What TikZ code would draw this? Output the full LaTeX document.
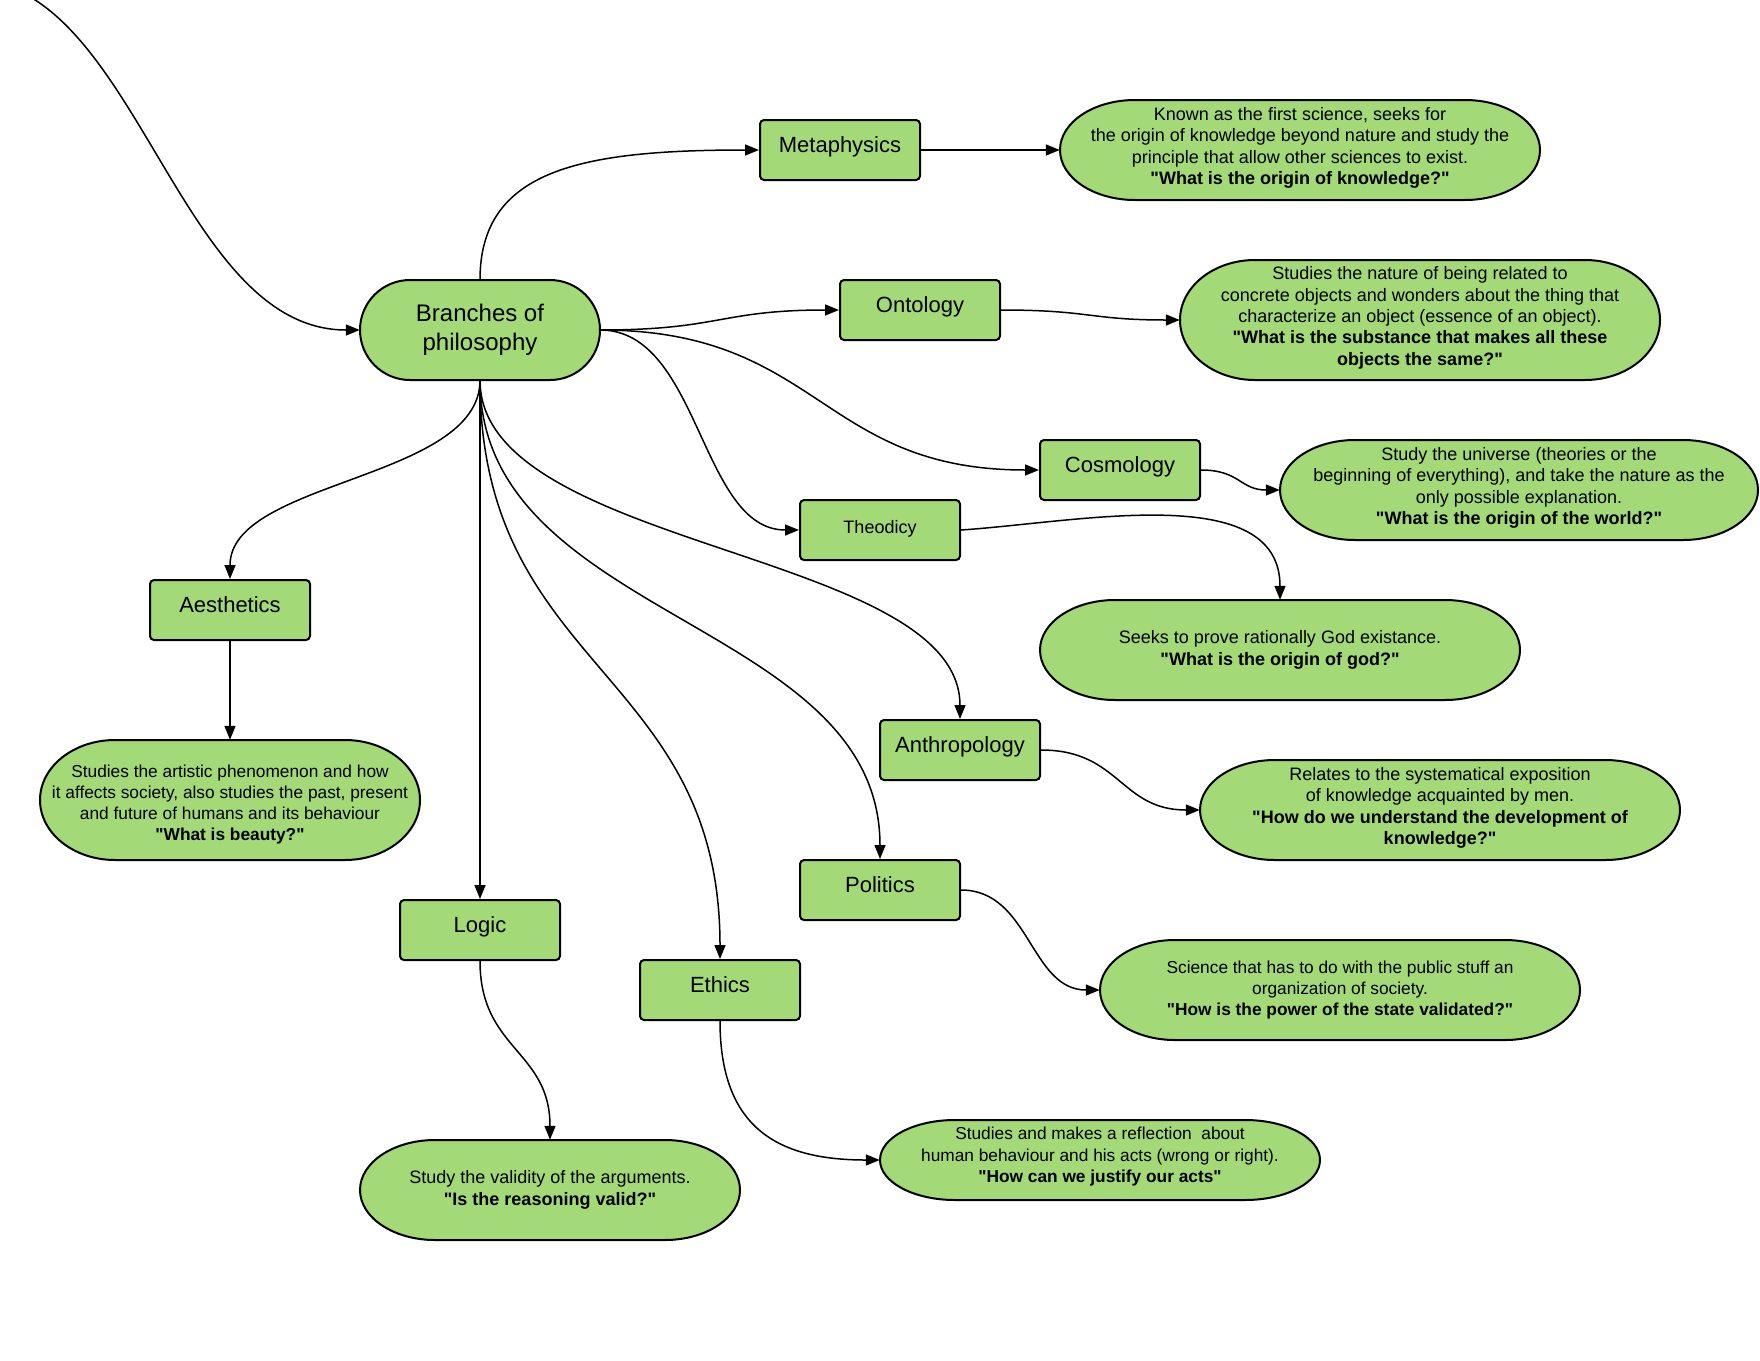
\documentclass[tikz,border=0pt]{standalone}
\usepackage{fontspec}
\setmainfont{Liberation Sans}[Ligatures=TeXOff]
\usetikzlibrary{arrows.meta}
\definecolor{boxgreen}{HTML}{A3D977}
\newcommand\stadshape[5]{%
 \pgfmathsetmacro\sxL{#1-#3/2}%
 \pgfmathsetmacro\sxR{#1+#3/2}%
 \pgfmathsetmacro\syT{#2-#4/2}%
 \pgfmathsetmacro\syB{#2+#4/2}%
 \pgfmathsetmacro\sxa{\sxL+#5}%
 \pgfmathsetmacro\sxb{\sxR-#5}%
 \pgfmathsetmacro\skx{0.5523*#5}%
 \pgfmathsetmacro\sky{0.5523*#4/2}%
 \path[shp] (\sxa,\syT) -- (\sxb,\syT)
   .. controls ({\sxb+\skx},\syT) and (\sxR,{#2-\sky}) .. (\sxR,#2)
   .. controls (\sxR,{#2+\sky}) and ({\sxb+\skx},\syB) .. (\sxb,\syB)
   -- (\sxa,\syB)
   .. controls ({\sxa-\skx},\syB) and (\sxL,{#2+\sky}) .. (\sxL,#2)
   .. controls (\sxL,{#2-\sky}) and ({\sxa-\skx},\syT) .. (\sxa,\syT) -- cycle;
}
% name, cx, cy, w, h, text shift, font size, text
\newcommand\descnode[8]{%
 \stadshape{#2}{#3}{#4}{#5}{75}%
 \node[desc, minimum width=#4pt, minimum height=#5pt] (#1) at (#2,#3) {};%
 \node[desc, font={\fontsize{#7}{21.3}\selectfont}] at ([yshift=#6pt]#1.center) {#8};%
}
\begin{document}
\begin{tikzpicture}[x=1pt,y=-1pt,
  shp/.style={draw=black, line width=2pt, fill=boxgreen},
  box/.style={draw=black, line width=2pt, fill=boxgreen, rounded corners=4pt,
    minimum width=160pt, minimum height=60pt, inner sep=0pt,
    text height=16pt, text depth=12pt,
    font={\fontsize{22}{26}\selectfont}},
  desc/.style={inner sep=0pt, align=center},
  conn/.style={line width=1.5pt, -{Triangle[length=14pt,width=11pt]}}]
\useasboundingbox (0,0) rectangle (1760,1360);
\fill[white] (0,0) rectangle (1760,1360);

% central node
\stadshape{480}{330}{240}{100}{50}
\node[inner sep=0pt, minimum width=240pt, minimum height=100pt, align=center,
  font={\fontsize{24}{29}\selectfont}] (br) at (480,330) {Branches of\\philosophy};

% branch boxes
\node[box] (meta) at (840,150) {Metaphysics};
\node[box] (onto) at (920,310) {Ontology};
\node[box] (cosmo) at (1120,470) {Cosmology};
\node[box, font={\fontsize{18}{21}\selectfont}, text height=13pt, text depth=6pt] (theo) at (880,530) {Theodicy};
\node[box] (anth) at (960,750) {Anthropology};
\node[box] (pol) at (880,890) {Politics};
\node[box] (eth) at (720,990) {Ethics};
\node[box] (logic) at (480,930) {Logic};
\node[box] (aes) at (230,610) {Aesthetics};

% descriptions
\descnode{metad}{1300}{150}{480}{100}{2.2}{18}{Known as the first science, seeks for\\the origin of knowledge beyond nature and study the\\principle that allow other sciences to exist.\\{\bfseries "What is the origin of knowledge?"}}
\descnode{ontod}{1420}{320}{480}{120}{2.2}{18}{Studies the nature of being related to\\concrete objects and wonders about the thing that\\characterize an object (essence of an object).\\{\bfseries "What is the substance that makes all these}\\{\bfseries objects the same?"}}
\descnode{cosmod}{1519}{490}{478}{100}{2.2}{18}{Study the universe (theories or the\\beginning of everything), and take the nature as the\\only possible explanation.\\{\bfseries "What is the origin of the world?"}}
\descnode{theod}{1280}{650}{480}{100}{0}{18}{Seeks to prove rationally God existance.\\{\bfseries "What is the origin of god?"}}
\descnode{anthd}{1440}{810}{480}{100}{2.2}{18}{Relates to the systematical exposition\\of knowledge acquainted by men.\\{\bfseries "How do we understand the development of}\\{\bfseries knowledge?"}}
\descnode{pold}{1340}{990}{480}{100}{0}{17.3}{Science that has to do with the public stuff an\\organization of society.\\{\bfseries "How is the power of the state validated?"}}
\descnode{ethd}{1100}{1160}{440}{80}{3.4}{17.3}{Studies and makes a reflection \ about\\human behaviour and his acts (wrong or right).\\{\bfseries "How can we justify our acts"}}
\descnode{logd}{550}{1190}{380}{100}{0}{18}{Study the validity of the arguments.\\{\bfseries "Is the reasoning valid?"}}
\descnode{aesd}{230}{800}{380}{120}{-4.5}{17.3}{Studies the artistic phenomenon and how\\it affects society, also studies the past, present\\and future of humans and its behaviour\\{\bfseries "What is beauty?"}}

% connectors
\coordinate (start) at (32,-2);
\draw[conn] (start) .. controls (150,70) and (200,330) .. (br.west);
\draw[conn] (br.north) .. controls (480,170) and (580,150) .. (meta.west);
\draw[conn] (meta.east) -- (metad.west);
\draw[conn] (br.east) .. controls (720,330) and (720,310) .. (onto.west);
\draw[conn] (onto.east) .. controls (1090,310) and (1090,320) .. (ontod.west);
\draw[conn] (br.east) .. controls (820,330) and (820,470) .. (cosmo.west);
\draw[conn] (cosmo.east) .. controls (1240,470) and (1240,490) .. (cosmod.west);
\draw[conn] (br.east) .. controls (700,330) and (700,530) .. (theo.west);
\draw[conn] (theo.east) .. controls (1080,522) and (1280,480) .. (theod.north);
\draw[conn] (br.south) .. controls (480,480) and (230,480) .. (aes.north);
\draw[conn] (aes.south) -- (aesd.north);
\draw[conn] (br.south) -- (logic.north);
\draw[conn] (logic.south) .. controls (480,1050) and (550,1050) .. (logd.north);
\draw[conn] (br.south) .. controls (480,670) and (720,670) .. (eth.north);
\draw[conn] (eth.south) .. controls (720,1130) and (780,1160) .. (ethd.west);
\draw[conn] (br.south) .. controls (480,620) and (880,620) .. (pol.north);
\draw[conn] (pol.east) .. controls (1030,890) and (1030,990) .. (pold.west);
\draw[conn] (br.south) .. controls (480,550) and (960,550) .. (anth.north);
\draw[conn] (anth.east) .. controls (1120,750) and (1120,810) .. (anthd.west);
\end{tikzpicture}
\end{document}
